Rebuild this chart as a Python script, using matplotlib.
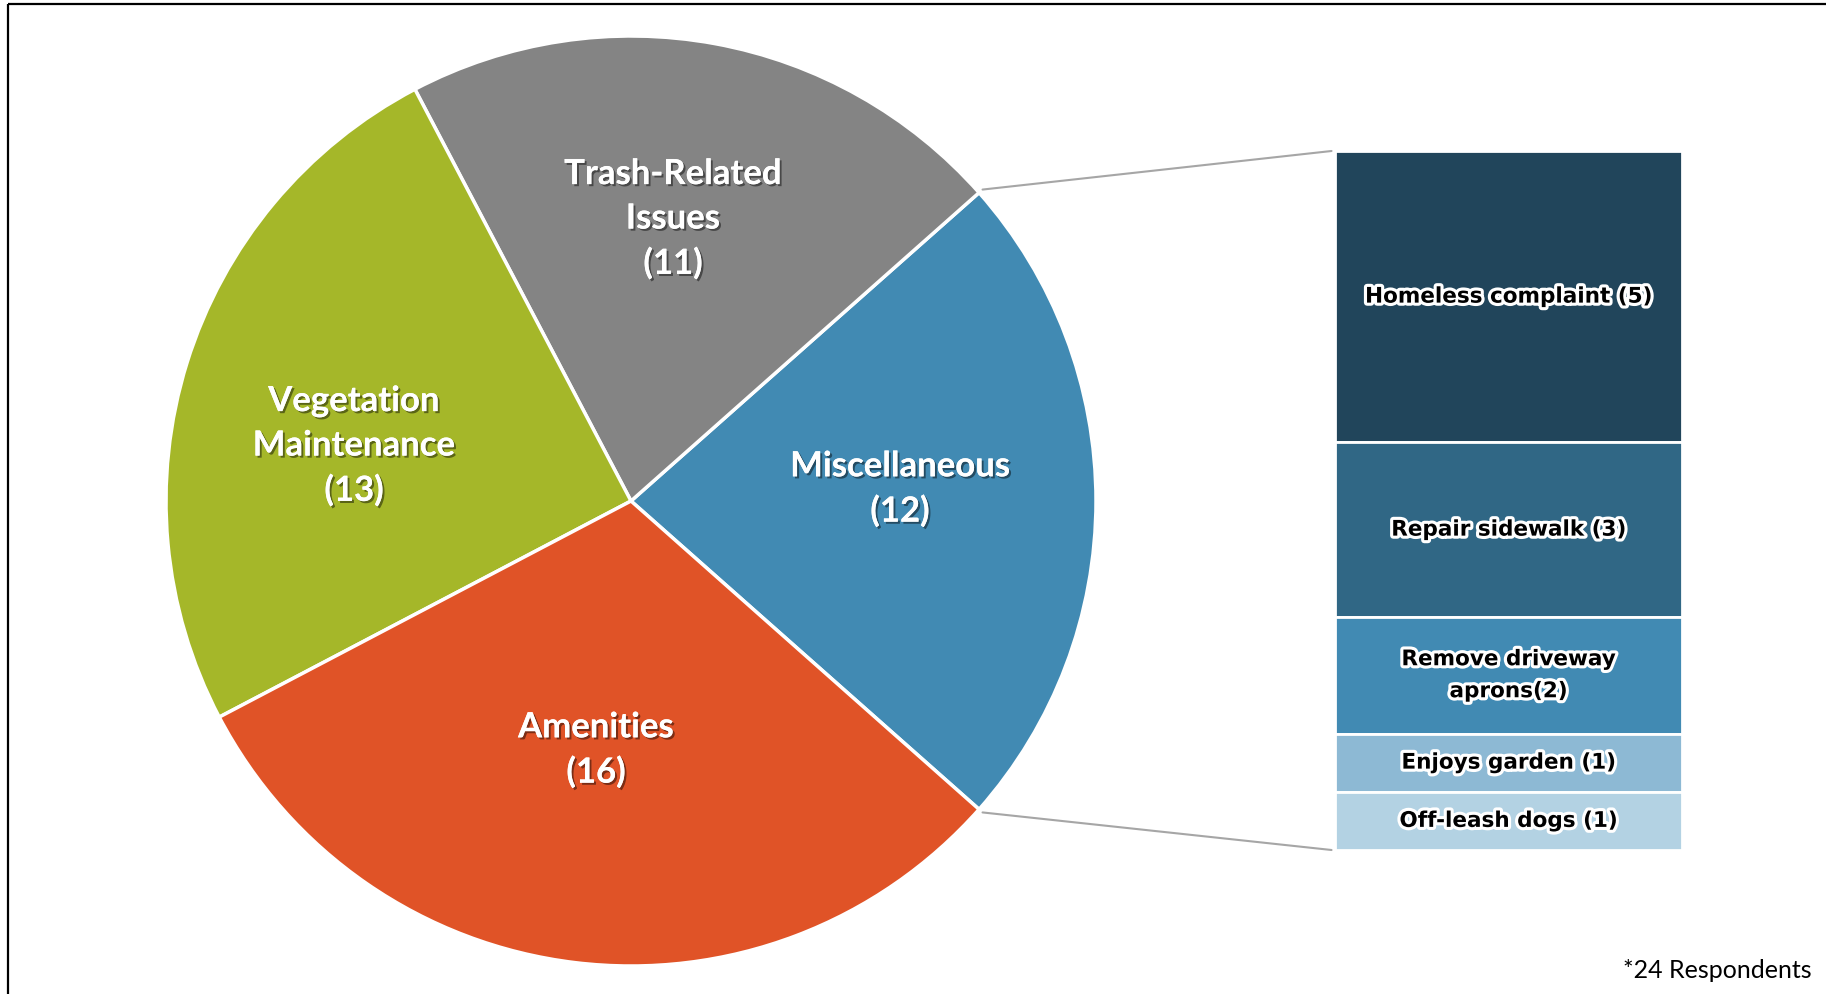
import matplotlib
matplotlib.use('Agg')
import matplotlib.pyplot as plt
import matplotlib.patheffects as pe
from matplotlib.patches import ConnectionPatch
import numpy as np

# Main pie: Miscellaneous first so it sits centred on the right
pie_labels = ['Miscellaneous', 'Trash-Related\nIssues', 'Vegetation\nMaintenance', 'Amenities']
pie_counts = [12, 11, 13, 16]
pie_colors = ['#418AB3', '#848484', '#A5B729', '#E05327']

# Breakdown of Miscellaneous
misc_labels = ['Homeless complaint (5)', 'Repair sidewalk (3)', 'Remove driveway\naprons(2)',
               'Enjoys garden (1)', 'Off-leash dogs (1)']
misc_counts = [5, 3, 2, 1, 1]
misc_colors = ['#21455B', '#306785', '#418AB3', '#8DB9D4', '#B3D2E3']

footnote = '*24 Respondents'

W, H = 1826, 994
fig = plt.figure(figsize=(W / 100, H / 100), dpi=100)

# pie axes placed by pixel centre / radius
cx, cy, r = 631, 501, 465
ax = fig.add_axes([(cx - r) / W, 1 - (cy + r) / H, 2 * r / W, 2 * r / H])
start = -360 * pie_counts[0] / sum(pie_counts) / 2
wedges, _ = ax.pie(pie_counts, colors=pie_colors, startangle=start,
                   wedgeprops=dict(edgecolor='white', linewidth=2.5))
ax.set_xlim(-1, 1)
ax.set_ylim(-1, 1)
ax.set_aspect('equal')
for w in wedges:
    w.set_clip_on(False)

# stacked bar for the breakdown
bax = fig.add_axes([1335 / W, 1 - 850 / H, (1682 - 1335) / W, (850 - 151) / H])
bottoms = np.concatenate([[0], np.cumsum(misc_counts)[:-1]])
bax.bar(0, misc_counts, bottom=bottoms, width=1, color=misc_colors,
        edgecolor='white', linewidth=2)
bax.set_xlim(-0.5, 0.5)
bax.set_ylim(sum(misc_counts), 0)
bax.axis('off')

glow = [pe.withStroke(linewidth=4.5, foreground='white')]
for lab, b, c in zip(misc_labels, bottoms, misc_counts):
    bax.text(0, b + c / 2, lab, ha='center', va='center', fontsize=15.5,
             fontweight='bold', family='DejaVu Sans', color='black',
             linespacing=1.75, path_effects=glow)

# connector lines from the Miscellaneous wedge to the bar
misc = wedges[0]
for ang, yb in [(misc.theta2, 1), (misc.theta1, 0)]:
    a = np.deg2rad(ang)
    con = ConnectionPatch(xyA=(1.01 * np.cos(a), 1.01 * np.sin(a)), coordsA=ax.transData,
                          xyB=(-0.01, yb), coordsB=bax.transAxes,
                          color='#A6A6A6', linewidth=1.5)
    fig.add_artist(con)

# overlay in pixel coords for labels and frame
ov = fig.add_axes([0, 0, 1, 1], facecolor='none')
ov.set_xlim(0, W)
ov.set_ylim(H, 0)
ov.axis('off')

shadow = [pe.withSimplePatchShadow(offset=(1.5, -1.5), shadow_rgbFace='black', alpha=0.45),
          pe.Normal()]
label_pos = [(900, 489), (673, 219), (354, 446), (596, 750)]
for lab, n, (x, y) in zip(pie_labels, pie_counts, label_pos):
    ov.text(x, y, f'{lab}\n({n})', ha='center', va='center', fontsize=25,
            fontweight='bold', family='Lato', color='white', linespacing=1.48,
            path_effects=shadow)

ov.text(1812, 971, footnote, ha='right', va='center', fontsize=18, family='Lato')

ov.plot([8, 8], [4, H], color='black', linewidth=1.6, solid_capstyle='butt')
ov.plot([8, W], [4, 4], color='black', linewidth=1.6, solid_capstyle='butt')

fig.savefig('out.png', dpi=100)
